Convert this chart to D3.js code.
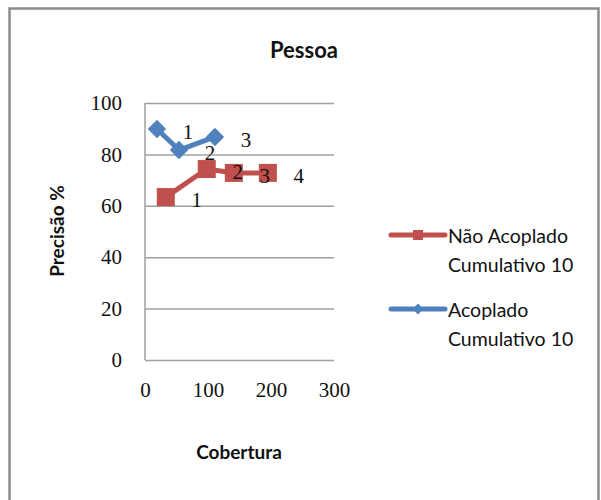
<!DOCTYPE html>
<html>
<head>
<meta charset="utf-8">
<script src="https://cdn.jsdelivr.net/npm/d3@7"></script>
<style>
  html, body { margin: 0; padding: 0; background: #fff; }
  svg { display: block; }
</style>
</head>
<body>
<svg id="chart" width="601" height="500"></svg>
<script>
// ---- data ----
const title = "Pessoa";
const xTitle = "Cobertura";
const yTitle = "Precisão %";
const xTicks = [0, 100, 200, 300];
const yTicks = [0, 20, 40, 60, 80, 100];
const seriesNames = ["Não Acoplado Cumulativo 10", "Acoplado Cumulativo 10"];
const naoX = [33, 98, 141, 195];
const naoY = [63.4, 74.3, 72.8, 72.8];
const naoLabels = ["1", "2", "3", "4"];
const acoX = [19, 54, 111];
const acoY = [89.9, 81.7, 86.8];
const acoLabels = ["1", "2", "3"];
const colors = ["#C0504D", "#4F81BD"];

const svg = d3.select("#chart");

// chart border
svg.append("rect")
  .attr("x", 9.5).attr("y", 8.5).attr("width", 589).attr("height", 520)
  .attr("fill", "#fff").attr("stroke", "#8c8c8c").attr("stroke-width", 2.5);

const x = d3.scaleLinear().domain([0, 300]).range([145, 334]);
const y = d3.scaleLinear().domain([0, 100]).range([360, 103]);

// gridlines
const grid = d3.axisLeft(y).tickValues(yTicks).tickSize(-(334 - 145)).tickFormat("");
svg.append("g").attr("transform", "translate(145,0)").call(grid)
  .call(g => g.select(".domain").remove())
  .call(g => g.selectAll("line").attr("stroke", "#a0a0a0").attr("stroke-width", 1.5));
// y axis line
svg.append("line").attr("x1", 145).attr("x2", 145).attr("y1", 103).attr("y2", 360)
  .attr("stroke", "#a0a0a0").attr("stroke-width", 1.5);

// y tick labels
const yAx = d3.axisLeft(y).tickValues(yTicks).tickSize(0).tickPadding(23);
svg.append("g").attr("transform", "translate(145,0)").call(yAx)
  .call(g => g.select(".domain").remove())
  .call(g => g.selectAll("text").attr("font-family", "Liberation Serif").attr("font-size", 21).attr("fill", "#111"));

// x tick labels (placed low, like the reference)
const xAx = d3.axisBottom(x).tickValues(xTicks).tickSize(0).tickPadding(0);
svg.append("g").attr("transform", "translate(0,393)").call(xAx)
  .call(g => g.select(".domain").remove())
  .call(g => g.selectAll("text").attr("font-family", "Liberation Serif").attr("font-size", 21).attr("fill", "#111").attr("dy", "0.2em"));

// titles
svg.append("text").attr("x", 304).attr("y", 58).attr("text-anchor", "middle")
  .attr("font-family", "Lato").attr("font-weight", "bold").attr("font-size", 22).attr("fill", "#111").text(title);
svg.append("text").attr("x", 239).attr("y", 459).attr("text-anchor", "middle")
  .attr("font-family", "Lato").attr("font-weight", "bold").attr("font-size", 19).attr("fill", "#111").text(xTitle);
svg.append("text").attr("transform", "translate(64,231) rotate(-90)").attr("text-anchor", "middle")
  .attr("font-family", "Lato").attr("font-weight", "bold").attr("font-size", 19).attr("fill", "#111").text(yTitle);

const line = d3.line().x(d => x(d[0])).y(d => y(d[1]));
const nao = naoX.map((v, i) => [v, naoY[i], naoLabels[i]]);
const aco = acoX.map((v, i) => [v, acoY[i], acoLabels[i]]);

// series lines
svg.append("path").datum(aco).attr("d", line).attr("fill", "none")
  .attr("stroke", colors[1]).attr("stroke-width", 5).attr("stroke-linejoin", "round");
svg.append("path").datum(nao).attr("d", line).attr("fill", "none")
  .attr("stroke", colors[0]).attr("stroke-width", 5).attr("stroke-linejoin", "round");

// markers
const diamond = d3.symbol().type(d3.symbolSquare).size(170);
svg.selectAll(".aco").data(aco).join("path")
  .attr("d", diamond)
  .attr("transform", d => `translate(${x(d[0])},${y(d[1])}) rotate(45)`)
  .attr("fill", colors[1]);
svg.selectAll(".nao").data(nao).join("rect")
  .attr("x", d => x(d[0]) - 9).attr("y", d => y(d[1]) - 9)
  .attr("width", 18).attr("height", 18).attr("fill", colors[0]);

// data labels
function labels(data) {
  svg.append("g").selectAll("text").data(data).join("text")
    .attr("x", d => x(d[0]) + 31).attr("y", d => y(d[1]) + 3)
    .attr("text-anchor", "middle").attr("dy", "0.35em")
    .attr("font-family", "Liberation Serif").attr("font-size", 21).attr("fill", "#111")
    .text(d => d[2]);
}
labels(aco);
labels(nao);

// legend
const leg = [
  { name: ["Não Acoplado", "Cumulativo 10"], color: colors[0], y: 235, type: "square" },
  { name: ["Acoplado", "Cumulativo 10"], color: colors[1], y: 309, type: "diamond" }
];
leg.forEach(l => {
  svg.append("line").attr("x1", 391).attr("x2", 445).attr("y1", l.y).attr("y2", l.y)
    .attr("stroke", l.color).attr("stroke-width", 5).attr("stroke-linecap", "round");
  if (l.type === "square") {
    svg.append("rect").attr("x", 413).attr("y", l.y - 5).attr("width", 10).attr("height", 10).attr("fill", l.color);
  } else {
    svg.append("path").attr("d", d3.symbol().type(d3.symbolSquare).size(60))
      .attr("transform", `translate(418,${l.y}) rotate(45)`).attr("fill", l.color);
  }
  const t = svg.append("text").attr("x", 448).attr("y", l.y + 8)
    .attr("font-family", "Lato").attr("font-size", 19.5).attr("fill", "#111");
  t.append("tspan").attr("x", 448).text(l.name[0]);
  t.append("tspan").attr("x", 448).attr("dy", 29).text(l.name[1]);
});
</script>
</body>
</html>
